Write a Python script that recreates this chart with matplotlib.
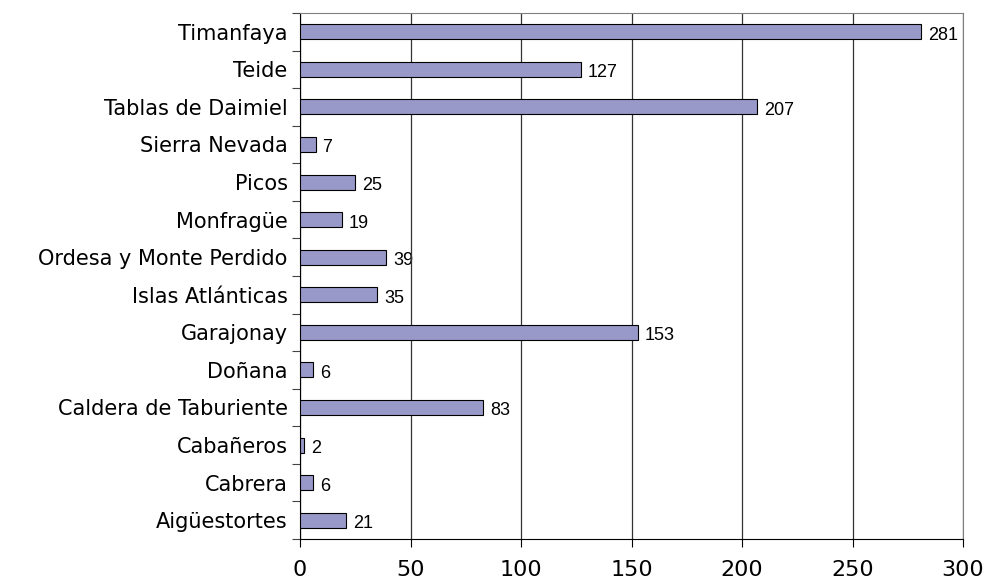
"""Horizontal bar chart of Spanish national parks."""

import numpy as np
import matplotlib.pyplot as plt

parks = [
    'Timanfaya', 'Teide', 'Tablas de Daimiel', 'Sierra Nevada', 'Picos',
    'Monfragüe', 'Ordesa y Monte Perdido', 'Islas Atlánticas', 'Garajonay',
    'Doñana', 'Caldera de Taburiente', 'Cabañeros', 'Cabrera', 'Aigüestortes',
]
values = [281, 127, 207, 7, 25, 19, 39, 35, 153, 6, 83, 2, 6, 21]
x_ticks = [0, 50, 100, 150, 200, 250, 300]

BAR_COLOUR = '#9999C9'

fig = plt.figure(figsize=(9.87, 5.8), dpi=100)
ax = fig.add_axes([0.304, 0.0707, 0.6717, 0.9069])

n = len(parks)
y = np.arange(n)[::-1]
ax.barh(y, values, height=0.4, color=BAR_COLOUR, edgecolor='black', linewidth=0.8, zorder=3)

for yi, v in zip(y, values):
    ax.annotate(str(v), (v, yi), xytext=(5, -2.5), textcoords='offset points',
                ha='left', va='center', fontsize=13, family='Liberation Sans', zorder=1.5)

ax.set_xlim(0, 300)
ax.set_ylim(-0.5, n - 0.5)
ax.set_xticks(x_ticks)
ax.set_xticklabels([str(t) for t in x_ticks], fontsize=16)
ax.set_yticks(y)
ax.set_yticklabels(parks, fontsize=15)
ax.set_yticks(np.arange(n + 1) - 0.5, minor=True)
ax.tick_params(axis='y', which='major', length=0, pad=9)
ax.tick_params(axis='y', which='minor', length=6, width=0.8, color='#444444')
ax.tick_params(axis='x', length=6, width=0.8, pad=9)

ax.grid(axis='x', color='#333333', linewidth=0.9, zorder=2)
for side in ['top', 'right']:
    ax.spines[side].set_color('#808080')
for side in ['left', 'bottom']:
    ax.spines[side].set_color('black')

fig.savefig('out.png', dpi=100)
